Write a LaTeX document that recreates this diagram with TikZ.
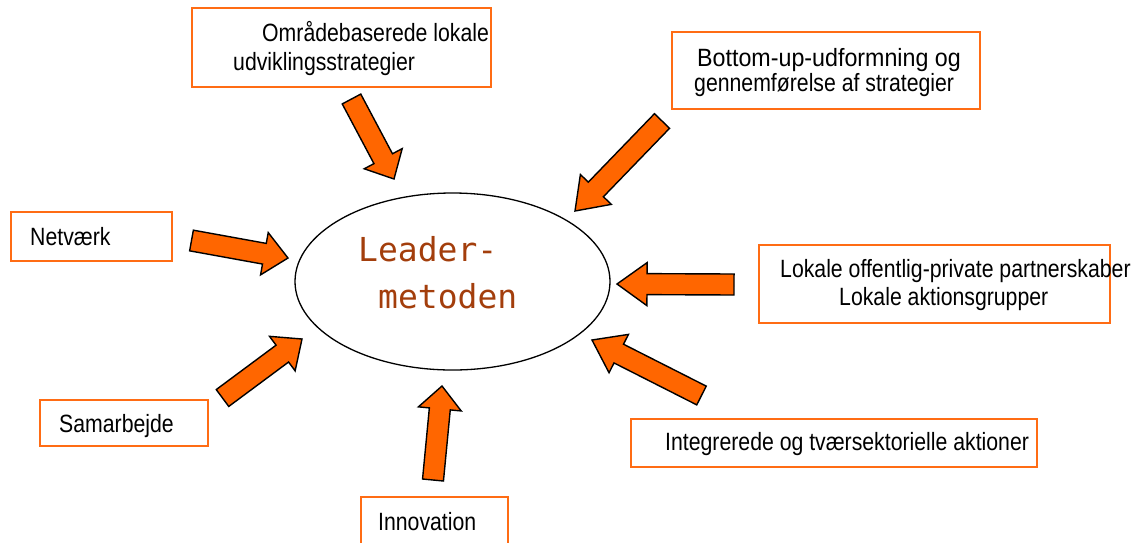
\documentclass[tikz,border=0pt]{standalone}
\usepackage{fontspec}
\setmainfont{Liberation Sans}
\newfontfamily\boxfont[FakeStretch=0.85]{Liberation Sans}
\newfontfamily\widefont[FakeStretch=0.93]{Liberation Sans}
\newfontfamily\hubfont{DejaVu Sans Mono}
\usetikzlibrary{calc,shapes.geometric}

\definecolor{boxorange}{RGB}{255,108,20}
\definecolor{arroworange}{RGB}{255,102,0}
\definecolor{hubbrown}{RGB}{163,62,12}

\tikzset{
  frame/.style={draw=boxorange, line width=2pt, inner sep=0pt, anchor=north west},
  boxtext/.style={anchor=base west, inner sep=0pt, font=\boxfont\fontsize{25}{29}\selectfont},
  widetext/.style={boxtext, font=\widefont\fontsize{25}{29}\selectfont},
  hubtext/.style={anchor=base west, inner sep=0pt, text=hubbrown, font=\hubfont\fontsize{33}{40}\selectfont},
  hub/.style={draw=black, line width=1.3pt, ellipse, inner sep=0pt},
  blockarrow/.style={fill=arroworange, draw=black, line width=1.4pt, line join=miter},
}

% Block arrow: #1 tail coordinate, #2 tip coordinate, #3 head length
\newcommand\blockarrow[3]{%
  \coordinate (#1-base) at ($(#2)!#3!(#1)$);
  \draw[blockarrow]
    ($(#1)!10.5pt!90:(#2)$) -- ($(#1-base)!10.5pt!90:(#2)$)
    -- ($(#1-base)!21.5pt!90:(#2)$) -- (#2)
    -- ($(#1-base)!21.5pt!-90:(#2)$) -- ($(#1-base)!10.5pt!-90:(#2)$)
    -- ($(#1)!10.5pt!-90:(#2)$) -- cycle;
}

\begin{document}
\begin{tikzpicture}[x=1pt, y=-1pt]
  \clip (0,0) rectangle (1140,542);
  \useasboundingbox (0,0) rectangle (1140,542);

  % central ellipse
  \node[hub, minimum width=315pt, minimum height=177pt] (hub) at (452.5,281.5) {};
  \node[hubtext] (hubA) at (358,261.7) {Leader-};
  \node[hubtext] (hubB) at (378,308.3) {metoden};

  % surrounding boxes
  \node[frame, minimum width=299pt, minimum height=78.7pt] (b1) at (191,7.3) {};
  \node[boxtext] (t1a) at (262,41.7) {Områdebaserede lokale};
  \node[boxtext] (t1b) at (233,70.7) {udviklingsstrategier};

  \node[frame, minimum width=308pt, minimum height=77pt] (b2) at (671,31) {};
  \node[widetext] (t2a) at (697,66.5) {Bottom-up-udformning og};
  \node[boxtext] (t2b) at (694,91.5) {gennemførelse af strategier};

  \node[frame, minimum width=161pt, minimum height=49pt] (b3) at (9.5,211) {};
  \node[boxtext] (t3) at (30,245.7) {Netværk};

  \node[frame, minimum width=351pt, minimum height=78pt] (b4) at (758,244) {};
  \node[boxtext] (t4a) at (780,277.3) {Lokale offentlig-private partnerskaber};
  \node[boxtext] (t4b) at (839,305) {Lokale aktionsgrupper};

  \node[frame, minimum width=168.5pt, minimum height=46pt] (b5) at (38.5,399) {};
  \node[boxtext] (t5) at (59,432.3) {Samarbejde};

  \node[frame, minimum width=406pt, minimum height=48pt] (b6) at (630,418) {};
  \node[boxtext] (t6) at (665,450) {Integrerede og tværsektorielle aktioner};

  \node[frame, minimum width=147pt, minimum height=64pt] (b7) at (360,496) {};
  \node[boxtext] (t7) at (378,530) {Innovation};

  % arrow end points
  \coordinate (a1) at (351.5,99);   \coordinate (a1tip) at (394,179);
  \coordinate (a2) at (662,121);    \coordinate (a2tip) at (575,211);
  \coordinate (a3) at (191.5,240.5);\coordinate (a3tip) at (288,258);
  \coordinate (a4) at (734,284.5);  \coordinate (a4tip) at (617,284);
  \coordinate (a5) at (222.5,398);  \coordinate (a5tip) at (302,339);
  \coordinate (a6) at (701.5,395.5);\coordinate (a6tip) at (592,340);
  \coordinate (a7) at (433,480);    \coordinate (a7tip) at (442,386);

  \blockarrow{a1}{a1tip}{23pt}
  \blockarrow{a2}{a2tip}{30pt}
  \blockarrow{a3}{a3tip}{24pt}
  \blockarrow{a4}{a4tip}{30pt}
  \blockarrow{a5}{a5tip}{24.5pt}
  \blockarrow{a6}{a6tip}{30pt}
  \blockarrow{a7}{a7tip}{23pt}
\end{tikzpicture}
\end{document}
